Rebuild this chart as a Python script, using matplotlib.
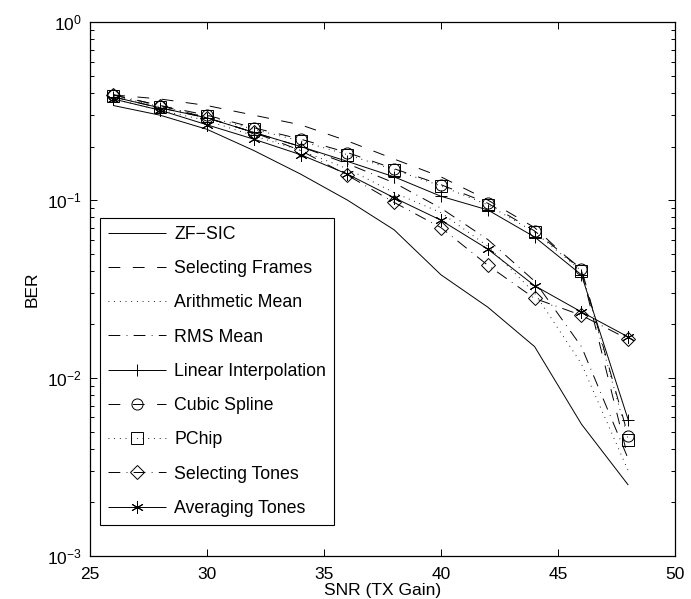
import matplotlib
matplotlib.use("Agg")
import matplotlib.pyplot as plt
from matplotlib.ticker import LogLocator, FixedLocator, NullFormatter

plt.rcParams['font.family'] = ['Liberation Sans', 'DejaVu Sans']
plt.rcParams['mathtext.fontset'] = 'custom'
plt.rcParams['mathtext.rm'] = 'Liberation Sans'
plt.rcParams['mathtext.it'] = 'Liberation Sans:italic'
plt.rcParams['lines.scale_dashes'] = False

snr = [26, 28, 30, 32, 34, 36, 38, 40, 42, 44, 46, 48]

zf_sic = [0.34, 0.30, 0.25, 0.19, 0.14, 0.10, 0.068, 0.038, 0.025, 0.015, 0.0055, 0.0025]
selecting_frames = [0.39, 0.37, 0.34, 0.30, 0.265, 0.215, 0.17, 0.135, 0.10, 0.07, 0.04, 0.0035]
arithmetic_mean = [0.37, 0.32, 0.28, 0.23, 0.19, 0.15, 0.11, 0.085, 0.055, 0.03, 0.012, 0.003]
rms_mean = [0.38, 0.33, 0.29, 0.24, 0.20, 0.16, 0.125, 0.09, 0.06, 0.035, 0.015, 0.0035]
linear_interp = [0.38, 0.33, 0.29, 0.24, 0.20, 0.165, 0.135, 0.105, 0.088, 0.062, 0.038, 0.0058]
cubic_spline = [0.39, 0.34, 0.30, 0.255, 0.22, 0.185, 0.15, 0.122, 0.096, 0.067, 0.041, 0.0047]
pchip = [0.385, 0.335, 0.295, 0.25, 0.215, 0.18, 0.148, 0.12, 0.094, 0.066, 0.040, 0.0045]
selecting_tones = [0.39, 0.34, 0.29, 0.24, 0.19, 0.138, 0.097, 0.07, 0.043, 0.028, 0.0225, 0.0165]
averaging_tones = [0.37, 0.32, 0.265, 0.22, 0.18, 0.14, 0.103, 0.077, 0.053, 0.033, 0.0235, 0.017]

labels = ['ZF\u2212SIC', 'Selecting Frames', 'Arithmetic Mean', 'RMS Mean',
          'Linear Interpolation', 'Cubic Spline', 'PChip', 'Selecting Tones',
          'Averaging Tones']
series = [zf_sic, selecting_frames, arithmetic_mean, rms_mean, linear_interp,
          cubic_spline, pchip, selecting_tones, averaging_tones]

solid = (0, ())
dashed = (0, (8.5, 9))
dotted = (0, (0.6, 3.5))
dashdot = (0, (8.5, 4.5, 0.6, 4.5))
asterisk = (6, 2, 0)
styles = [
    (solid, None, 8),
    (dashed, None, 8),
    (dotted, None, 8),
    (dashdot, None, 8),
    (solid, '+', 9),
    (dashed, 'o', 8),
    (dotted, 's', 8),
    (dashdot, 'D', 7),
    (solid, asterisk, 9),
]

fig = plt.figure(figsize=(6.91, 5.99), dpi=100)
ax = fig.add_axes([0.130, 0.072, 0.847, 0.891])

for y, lab, (ls, mk, ms) in zip(series, labels, styles):
    ax.semilogy(snr, y, color='black', linestyle=ls, linewidth=0.7,
                marker=mk, markersize=ms, markerfacecolor='none',
                markeredgecolor='black', markeredgewidth=0.7, label=lab)

ax.set_xlim(25, 50)
ax.set_ylim(1e-3, 1)
ax.xaxis.set_major_locator(FixedLocator([25, 30, 35, 40, 45, 50]))
ax.yaxis.set_major_locator(LogLocator(base=10, numticks=10))
ax.yaxis.set_minor_locator(LogLocator(base=10, subs=range(2, 10), numticks=20))
ax.yaxis.set_minor_formatter(NullFormatter())

ax.tick_params(which='both', direction='in', top=True, right=True,
               labelsize=12.5, colors='black', width=0.7)
ax.tick_params(which='major', length=5)
ax.tick_params(axis='x', which='major', pad=8)
ax.tick_params(axis='y', which='major', pad=6)
ax.tick_params(which='minor', length=3)
for s in ax.spines.values():
    s.set_linewidth(0.9)

ax.set_xlabel('SNR (TX Gain)', fontsize=12.5, labelpad=1)
ax.set_ylabel('BER', fontsize=12.5, labelpad=5)

leg = ax.legend(loc='lower left', bbox_to_anchor=(0.017, 0.058),
                borderaxespad=0, fontsize=12.8, handlelength=3.3,
                labelspacing=0.97, handletextpad=0.45, borderpad=0.45,
                fancybox=False, framealpha=1, edgecolor='black')
leg.get_frame().set_linewidth(0.8)

fig.savefig('out.png', dpi=100)
